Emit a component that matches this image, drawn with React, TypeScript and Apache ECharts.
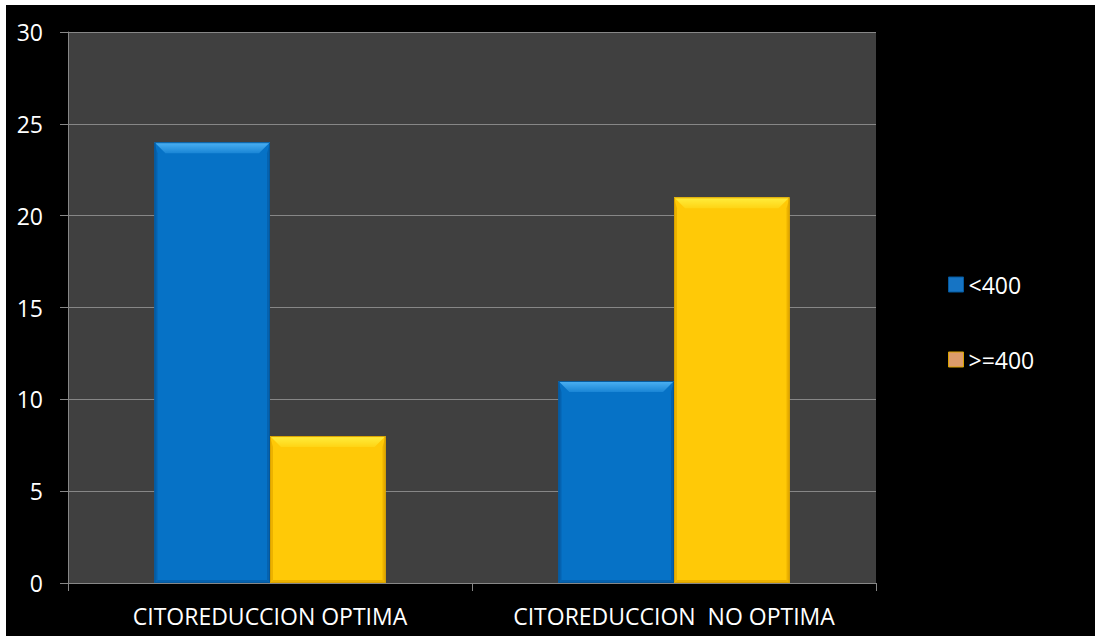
import React, { useEffect, useRef } from "react";
import * as echarts from "echarts";

// Categories, series and values
const categories = ["CITOREDUCCION OPTIMA", "CITOREDUCCION  NO OPTIMA"];
const seriesNames = ["<400", ">=400"];
const under400 = [24, 11];
const over400 = [8, 21];
const yMin = 0;
const yMax = 30;
const yStep = 5;

const FONT = "'Open Sans', 'Noto Sans', sans-serif";
const GRID_GRAY = "#878787";
const BAR_RATIO = 0.286; // share of a category band taken by one bar

type Tone = {
  main: string;
  top: string;
  topEnd: string;
  side: string;
  edge: string;
  legend: string;
};

const tones: Tone[] = [
  { main: "#0672C6", top: "#4DB2F4", topEnd: "#1A86D6", side: "#0562AF", edge: "#04589C", legend: "#1674C4" },
  { main: "#FFC907", top: "#FFEE3E", topEnd: "#FFD414", side: "#ECB200", edge: "#D9A200", legend: "#DC9C6B" },
];

// Bevelled bar: flat face, lighter top chamfer, darker side and bottom chamfers
const makeRenderItem = (tone: Tone, side: number) => (params: any, api: any) => {
  const cat = api.value(0);
  const val = api.value(1);
  const base = api.coord([cat, 0]);
  const tip = api.coord([cat, val]);
  const band = api.size([1, 0])[0];
  const w = band * BAR_RATIO;
  const x0 = side < 0 ? base[0] - w : base[0];
  const x1 = x0 + w;
  const y0 = tip[1];
  const y1 = base[1];
  const bev = 11;
  const s = 3;
  return {
    type: "group",
    children: [
      { type: "rect", shape: { x: x0, y: y0, width: w, height: y1 - y0 }, style: { fill: tone.main } },
      {
        type: "polygon",
        shape: { points: [[x0, y0], [x0 + s, y0 + bev], [x0 + s, y1 - s], [x0, y1]] },
        style: { fill: tone.side },
      },
      {
        type: "polygon",
        shape: { points: [[x1, y0], [x1 - s, y0 + bev], [x1 - s, y1 - s], [x1, y1]] },
        style: { fill: tone.side },
      },
      {
        type: "polygon",
        shape: { points: [[x0, y1], [x0 + s, y1 - s], [x1 - s, y1 - s], [x1, y1]] },
        style: { fill: tone.side },
      },
      {
        type: "polygon",
        shape: { points: [[x0, y0], [x1, y0], [x1 - bev, y0 + bev], [x0 + bev, y0 + bev]] },
        style: {
          fill: new echarts.graphic.LinearGradient(0, 0, 0, 1, [
            { offset: 0, color: tone.top },
            { offset: 1, color: tone.topEnd },
          ]),
        },
      },
      {
        type: "rect",
        shape: { x: x0 + 0.5, y: y0 + 0.5, width: w - 1, height: y1 - y0 - 1 },
        style: { fill: "none", stroke: tone.edge, lineWidth: 1 },
      },
    ],
  };
};

const seriesValues = [under400, over400];

const option: any = {
  animation: false,
  backgroundColor: "#000000",
  grid: {
    left: 62,
    right: 219,
    top: 27,
    bottom: 53,
    show: true,
    backgroundColor: "#404040",
    borderWidth: 0,
  },
  legend: {
    orient: "vertical",
    left: 942,
    top: 268,
    padding: 0,
    icon: "rect",
    itemWidth: 15,
    itemHeight: 15,
    itemGap: 52,
    textStyle: { color: "#ffffff", fontFamily: FONT, fontSize: 23 },
    data: seriesNames.map((name, i) => ({
      name,
      itemStyle: { color: tones[i].legend, borderColor: tones[i].edge, borderWidth: 1 },
    })),
  },
  xAxis: {
    type: "category",
    data: categories,
    axisLine: { show: true, lineStyle: { color: GRID_GRAY, width: 1 } },
    axisTick: { show: true, length: 8, lineStyle: { color: GRID_GRAY } },
    axisLabel: { color: "#ffffff", fontFamily: FONT, fontSize: 23, margin: 21, interval: 0 },
    splitLine: { show: false },
  },
  yAxis: {
    type: "value",
    min: yMin,
    max: yMax,
    interval: yStep,
    axisLine: { show: true, lineStyle: { color: GRID_GRAY, width: 1 } },
    axisTick: { show: true, length: 8, lineStyle: { color: GRID_GRAY } },
    axisLabel: { color: "#ffffff", fontFamily: FONT, fontSize: 23, margin: 25 },
    splitLine: { show: true, lineStyle: { color: GRID_GRAY, width: 1 } },
  },
  series: seriesNames.map((name, i) => ({
    name,
    type: "custom",
    coordinateSystem: "cartesian2d",
    encode: { x: 0, y: 1 },
    itemStyle: { color: tones[i].legend },
    data: seriesValues[i].map((v, c) => [c, v]),
    renderItem: makeRenderItem(tones[i], i === 0 ? -1 : 1),
  })),
};

export default function App() {
  const ref = useRef<HTMLDivElement>(null);
  useEffect(() => {
    const chart = echarts.init(ref.current!, undefined, { renderer: "svg" });
    chart.setOption(option);
    return () => chart.dispose();
  }, []);
  return (
    <div
      ref={ref}
      style={{ position: "fixed", left: 6, top: 5, width: 1089, height: 631, background: "#000000" }}
    />
  );
}
